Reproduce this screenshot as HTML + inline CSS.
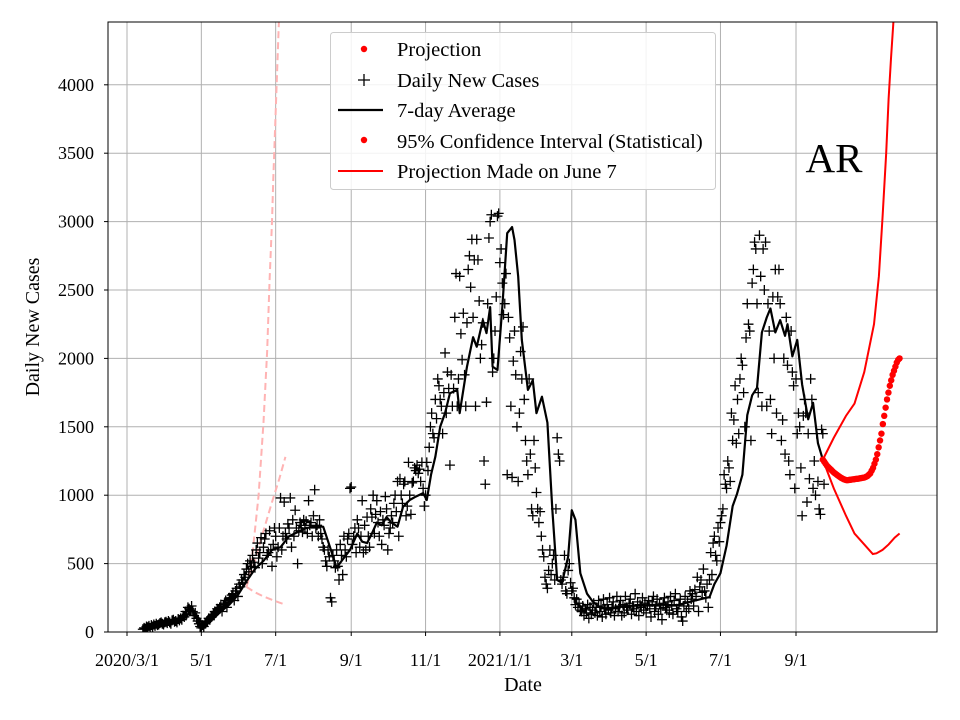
<!DOCTYPE html>
<html><head><meta charset="utf-8"><style>
body{margin:0;background:#fff}
svg{display:block;font-family:"Liberation Serif",serif}
</style></head><body>
<svg id="c" width="960" height="720"></svg>
<script>
const tickLabels=["2020/3/1","5/1","7/1","9/1","11/1","2021/1/1","3/1","5/1","7/1","9/1"];
const tickDays=[0,61,122,184,245,306,365,426,487,549];
const yTicks=[0,500,1000,1500,2000,2500,3000,3500,4000];
const dailyStart=13;
const dailyCases=[20,30,25,40,35,45,30,50,40,55,45,60,50,55,65,70,60,55,70,75,65,80,70,60,85,90,75,80,70,95,85,100,90,120,110,150,130,180,170,160,190,150,120,140,100,80,60,40,30,50,40,60,70,80,100,90,110,120,130,150,140,170,160,180,200,150,190,210,230,180,220,250,240,270,280,230,300,320,260,350,330,380,360,420,400,460,500,440,520,480,560,510,470,600,650,540,580,690,500,620,680,720,560,580,740,600,480,640,760,700,550,620,760,980,600,700,950,720,680,790,760,980,620,820,700,890,760,500,740,800,780,730,820,760,810,720,960,780,800,700,850,1040,760,780,700,820,720,680,620,600,520,480,600,550,250,220,560,520,470,600,480,380,640,560,420,700,600,550,680,720,1050,1060,640,700,760,580,820,760,620,700,960,580,780,600,840,700,620,900,840,1000,720,860,960,800,700,880,640,820,780,990,900,600,720,760,850,800,940,1000,880,1100,700,1120,1000,940,1080,1100,850,920,1240,1000,860,1090,1100,1200,1180,1220,1160,1190,1100,1240,1050,920,1000,1240,1180,1350,1500,1600,1450,1420,1700,1560,1850,1800,1700,1650,1450,1750,2040,1600,1900,1780,1220,1880,1650,1780,2300,2620,1650,1850,2600,2180,1990,2330,1880,1650,2260,2650,2750,2520,2870,2300,2720,1650,2870,2720,2420,2000,2100,2260,1250,1080,1680,2400,2880,3000,3050,1900,2000,2200,2450,3040,3060,2700,2800,2550,2320,2400,2620,1150,2300,2150,1650,1130,1980,2200,1880,1500,1100,1600,2050,1850,2230,1700,1400,1250,1150,1850,1300,900,850,1400,1200,1020,900,800,880,700,600,550,400,350,320,450,600,420,500,560,380,900,1420,1300,1250,380,350,400,560,300,280,450,500,360,300,320,250,200,240,180,210,160,150,190,120,170,140,200,100,180,130,160,210,140,180,120,230,150,190,110,240,170,130,200,160,250,140,180,220,120,170,260,150,190,230,120,200,140,260,180,160,210,240,130,190,170,280,150,220,120,200,180,250,160,210,140,190,230,170,110,220,260,150,190,240,130,200,170,90,210,250,180,160,220,140,260,190,130,230,280,170,150,200,240,110,80,190,260,150,220,170,300,240,280,190,310,260,400,150,330,380,290,460,300,250,350,180,380,580,420,650,700,560,520,760,660,800,850,900,1150,1080,1050,1250,1200,1100,1600,1400,1550,1800,1380,1700,1450,1850,2000,1950,1750,1500,2150,2400,2250,2200,1400,2550,2650,2850,2800,2400,1750,2900,2600,1650,2800,2500,2850,1650,2400,2200,1700,1450,2450,2000,2650,1600,2450,2650,2400,1400,1550,2000,1300,2300,1950,1250,1150,2200,1900,1800,1050,1850,1450,1600,1500,1200,850,1580,1700,1600,950,1450,1120,1850,1700,1050,1250,1000,1450,1100,900,860,1480,1450,1080];
const avgDays=[14,20.5,28,35,42,49,52.5,56.6,63,70,77,84,91,98,105,112,119,126,133,140,147,154,161,166.6,172,177,183,189,193,197,201,205,209,213,217,222,226.5,232,237,243,246,249.5,253,257,261,265,271,273,279,284,287,292,295,298,300,304,308,312,316,318,321,324,329,333,336,340.5,345,349,353,357,362,365,368,372,377.5,382,388,396,409,423,437,451,466,478,482,487,492,497,500.6,505,509,513,517,521,525,528,532,536,540,542,546,550,554,559,563,567,571];
const avgVals=[30,50,60,70,80,110,170,130,50,90,150,200,270,370,460,520,600,620,700,730,760,770,770,620,470,530,600,720,660,650,720,800,780,840,800,770,915,965,990,1015,965,1150,1280,1500,1600,1745,1770,1600,1940,2155,2085,2280,2185,2375,1940,1915,2375,2915,2960,2865,2600,2135,1770,1840,1600,1720,1530,900,380,360,550,890,820,430,280,225,180,170,190,195,200,195,230,255,350,430,630,920,1010,1150,1585,1730,1785,2190,2300,2365,2190,2280,2165,2250,2015,2135,1810,1555,1675,1380,1260];
const projStart=571;
const projVals=[1260,1245,1230,1215,1205,1195,1185,1175,1165,1158,1150,1142,1135,1128,1122,1117,1113,1110,1110,1112,1113,1115,1116,1118,1120,1120,1122,1124,1126,1128,1130,1135,1140,1150,1160,1180,1200,1230,1260,1300,1350,1400,1450,1520,1580,1640,1700,1750,1800,1840,1880,1910,1940,1970,1990,2000];
const upperDays=[571,580,590,597,605,613,617,620,623,625,627,629,631];
const upperVals=[1260,1420,1580,1670,1900,2250,2600,3030,3500,3900,4200,4470,4800];
const lowerDays=[571,580,590,597,605,612,615,620,625,630,634];
const lowerVals=[1260,1050,850,720,640,570,575,600,640,690,720];
const pinkUpDays=[98,103,108,112,115,117,119,120,122,124,126];
const pinkUpVals=[330,575,1000,1530,2050,2570,3000,3300,3800,4300,4800];
const pinkMidDays=[98,105,112,119,125,130];
const pinkMidVals=[330,520,740,950,1120,1280];
const pinkLowDays=[98,105,112,119,125,130];
const pinkLowVals=[330,290,260,235,215,200];

const NS="http://www.w3.org/2000/svg";
const svg=document.getElementById('c');
const L=108,R=937,T=22,B=632;
const X=d=>127+d*1.2186;
const Y=v=>B-v*0.1368;
function mk(tag,attrs,parent){const e=document.createElementNS(NS,tag);for(const k in attrs)e.setAttribute(k,attrs[k]);(parent||svg).appendChild(e);return e;}
const defs=mk('defs',{});const cp=mk('clipPath',{id:'clip'},defs);mk('rect',{x:L,y:T,width:R-L,height:B-T},cp);
yTicks.forEach(v=>{const g=mk('line',{x1:L,x2:R,y1:Y(v),y2:Y(v),stroke:'#b0b0b0','stroke-width':1});


const t=mk('text',{x:L-14,y:Y(v)+6,'text-anchor':'end','font-size':18});t.textContent=v;


mk('line',{x1:L-4,x2:L,y1:Y(v),y2:Y(v),stroke:'#000'});});
tickDays.forEach((d,i)=>{const g=mk('line',{x1:X(d),x2:X(d),y1:T,y2:B,stroke:'#b0b0b0','stroke-width':1});


mk('line',{x1:X(d),x2:X(d),y1:B,y2:B+4,stroke:'#000'});
const t=mk('text',{x:X(d),y:B+34,'text-anchor':'middle','font-size':18});t.textContent=tickLabels[i];

});
const plot=mk('g',{'clip-path':'url(#clip)'});


function line(days,vals,attrs,name){const p=mk('polyline',Object.assign({fill:'none',points:days.map((d,i)=>X(d)+','+Y(vals[i])).join(' ')},attrs),plot);

}
const pa={stroke:'#ffb3b3','stroke-width':2,'stroke-dasharray':'7,4'};
line(pinkUpDays,pinkUpVals,pa,'june7-projection-upper');
line(pinkMidDays,pinkMidVals,pa,'june7-projection-mid');
line(pinkLowDays,pinkLowVals,pa,'june7-projection-lower');
let dpath='';
dailyCases.forEach((v,i)=>{const x=X(dailyStart+i),y=Y(v);dpath+=`M${x-5},${y}h10M${x},${y-5}v10`;});
const dc=mk('path',{d:dpath,stroke:'#000','stroke-width':1.3,fill:'none'},plot);


line(avgDays,avgVals,{stroke:'#000','stroke-width':2.2,'stroke-linejoin':'round'},'seven-day-average');
line(upperDays,upperVals,{stroke:'#f00','stroke-width':2},'ci-upper');
line(lowerDays,lowerVals,{stroke:'#f00','stroke-width':2},'ci-lower');
projVals.forEach((v,i)=>{const c=mk('circle',{cx:X(projStart+i*63/(projVals.length-1)),cy:Y(v),r:3.2,fill:'#f00'},plot);

});
mk('rect',{x:L,y:T,width:R-L,height:B-T,fill:'none',stroke:'#000','stroke-width':1});
</script>
<svg width="960" height="720" style="position:absolute;left:0;top:0">
<g font-family="Liberation Serif, serif">
<text x="39" y="327" transform="rotate(-90 39 327)" text-anchor="middle" font-size="20">Daily New Cases</text>
<text x="523" y="691" text-anchor="middle" font-size="20">Date</text>
<text x="834" y="172" text-anchor="middle" font-size="41">AR</text>
<g>
<rect x="330.5" y="32.5" width="385" height="157" rx="3" fill="#fff" fill-opacity="0.85" stroke="#ccc"/>
<circle cx="364" cy="49" r="3.2" fill="#f00"/>
<text x="397" y="56" font-size="20.5">Projection</text>
<path d="M358,80h12M364,74v12" stroke="#000" stroke-width="1.3"/>
<text x="397" y="87" font-size="20.5">Daily New Cases</text>
<line x1="338" x2="383" y1="110" y2="110" stroke="#000" stroke-width="2.2"/>
<text x="397" y="117" font-size="20.5">7-day Average</text>
<circle cx="364" cy="140" r="3.2" fill="#f00"/>
<text x="397" y="148" font-size="20.5">95% Confidence Interval (Statistical)</text>
<line x1="338" x2="383" y1="171" y2="171" stroke="#f00" stroke-width="2"/>
<text x="397" y="178" font-size="20.5">Projection Made on June 7</text>
</g></g></svg>
</body></html>
